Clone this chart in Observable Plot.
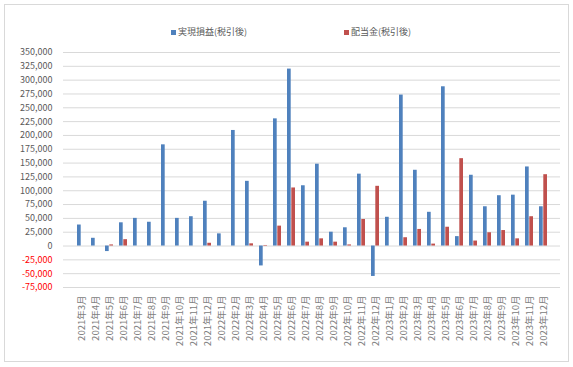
<!DOCTYPE html>
<html>
<head>
<meta charset="utf-8">
<script src="https://cdn.jsdelivr.net/npm/d3@7"></script>
<script src="https://cdn.jsdelivr.net/npm/@observablehq/plot@0.6"></script>
<style>
  body { margin: 0; background: #fff; font-family: "Noto Sans CJK JP", "Noto Sans", sans-serif; }
  #wrap { position: relative; width: 573px; height: 367px; overflow: hidden; }
  #frame { position: absolute; left: 4px; top: 4px; width: 565px; height: 358px; border: 1px solid #d9d9d9; box-sizing: border-box; }
  #chart { position: absolute; left: 0; top: 0; }
  .lg { position: absolute; top: 25px; font-size: 9px; color: #595959; white-space: nowrap; line-height: 14px; }
  .sw { display: inline-block; width: 5px; height: 5px; margin-right: 2px; vertical-align: 0px; }
</style>
</head>
<body>
<div id="wrap">
  <div id="frame"></div>
  <div id="chart"></div>
  <div class="lg" style="left:171px"><span class="sw" style="background:#4f81bd"></span>実現損益(税引後)</div>
  <div class="lg" style="left:344px"><span class="sw" style="background:#c0504d"></span>配当金(税引後)</div>
</div>
<script>
const months = [
  "2021年3月","2021年4月","2021年5月","2021年6月","2021年7月","2021年8月","2021年9月","2021年10月","2021年11月","2021年12月",
  "2022年1月","2022年2月","2022年3月","2022年4月","2022年5月","2022年6月","2022年7月","2022年8月","2022年9月","2022年10月","2022年11月","2022年12月",
  "2023年1月","2023年2月","2023年3月","2023年4月","2023年5月","2023年6月","2023年7月","2023年8月","2023年9月","2023年10月","2023年11月","2023年12月"
];
const realized = [
  38000, 14000, -10000, 42000, 50000, 43000, 183000, 50000, 53000, 81000,
  22000, 209000, 117000, -36000, 230000, 320000, 109000, 148000, 25000, 33000, 130000, -55000,
  52000, 273000, 137000, 61000, 288000, 17000, 128000, 71000, 91000, 92000, 143000, 71000
];
const dividends = [
  0, 0, 2000, 11500, 0, 0, 0, 0, 0, 5000,
  0, 0, 4000, 1000, 36000, 105000, 7000, 13000, 7000, 2000, 48000, 108000,
  0, 15000, 30000, 3500, 34000, 158000, 9000, 24000, 28000, 13000, 53000, 129000
];
const seriesNames = ["実現損益(税引後)", "配当金(税引後)"];
const yTicks = d3.range(-75000, 350001, 25000);

const blueData = months.map((m, i) => ({month: m, value: realized[i], series: seriesNames[0]}));
const redData = months.map((m, i) => ({month: m, value: dividends[i], series: seriesNames[1]}));

const fmt = d => d.toLocaleString("en-US");

const chart = Plot.plot({
  width: 573,
  height: 367,
  marginTop: 52,
  marginBottom: 80,
  marginLeft: 63,
  marginRight: 13,
  style: {fontFamily: '"Noto Sans CJK JP", "Noto Sans", sans-serif', fontSize: "9px", background: "transparent"},
  x: {domain: months, padding: 0},
  y: {domain: [-75000, 350000]},
  color: {domain: seriesNames, range: ["#4f81bd", "#c0504d"]},
  marks: [
    Plot.gridY(yTicks, {stroke: "#d9d9d9", strokeOpacity: 1, strokeWidth: 1}),
    Plot.barY(blueData, {x: "month", y: "value", fill: "series", insetLeft: 3, insetRight: 7.3}),
    Plot.barY(redData.filter(d => d.value !== 0), {x: "month", y: "value", fill: "series", insetLeft: 7.3, insetRight: 3}),
    Plot.axisY(yTicks.filter(t => t >= 0), {tickSize: 0, tickPadding: 11, tickFormat: fmt, fill: "#595959", label: null, fontSize: 9}),
    Plot.axisY(yTicks.filter(t => t < 0), {tickSize: 0, tickPadding: 11, tickFormat: fmt, fill: "#ff0000", label: null, fontSize: 9}),
    Plot.axisX({tickSize: 0, tickPadding: 8, tickRotate: -90, fill: "#808080", label: null, fontSize: 9.5})
  ]
});
document.getElementById("chart").appendChild(chart);
</script>
</body>
</html>
